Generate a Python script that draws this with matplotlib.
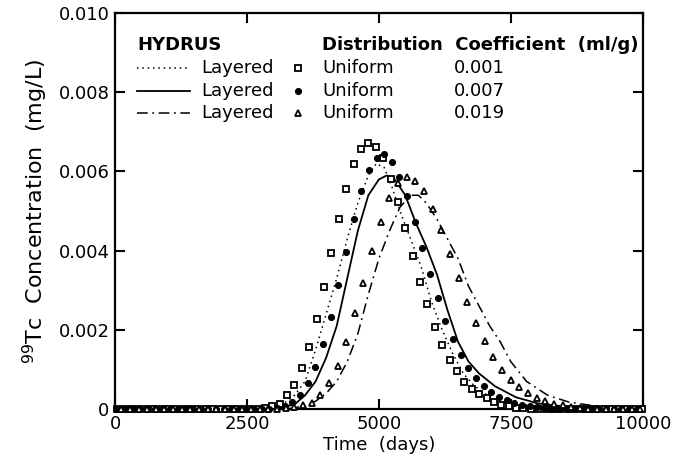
"""
99Tc breakthrough: HYDRUS layered profile (lines) vs uniform profile (markers)
for three distribution coefficients. Writes out.png.
"""

import matplotlib
matplotlib.use("Agg")
import matplotlib.pyplot as plt

# ==========================================
# DATA
# ==========================================
# HYDRUS layered runs: dotted Kd=0.001, solid Kd=0.007, dash-dot Kd=0.019
DOT_T = [0, 2600, 2800, 3000, 3200, 3400, 3600, 3800, 4000, 4200, 4400, 4600,
         4800, 4950, 5100, 5250, 5400, 5600, 5800, 6000, 6200, 6400, 6600,
         6800, 7000, 7250, 7600, 8000, 8500, 10000]
DOT_C = [0, 0, 0.00001, 0.00005, 0.00015, 0.00035, 0.0007, 0.0015, 0.0024,
         0.0033, 0.0043, 0.0052, 0.0059, 0.0062, 0.0061, 0.0056, 0.0050,
         0.0043, 0.0036, 0.0027, 0.0020, 0.0014, 0.0009, 0.0006, 0.0004,
         0.00022, 0.0001, 0.00003, 0, 0]

SOL_T = [0, 2800, 3000, 3200, 3400, 3600, 3800, 4000, 4200, 4400, 4600, 4800,
         5000, 5150, 5300, 5500, 5700, 5900, 6100, 6300, 6500, 6700, 6900,
         7200, 7600, 8000, 8500, 9000, 9500, 10000]
SOL_C = [0, 0, 0.00002, 0.00006, 0.00012, 0.00035, 0.0007, 0.0013, 0.0021,
         0.0033, 0.0045, 0.0054, 0.0058, 0.0059, 0.0058, 0.0054, 0.0047,
         0.0041, 0.0034, 0.0025, 0.0017, 0.0012, 0.0009, 0.00058, 0.0003,
         0.00015, 0.00007, 0.00002, 0, 0]

DD_T = [0, 3200, 3400, 3600, 3800, 4000, 4200, 4400, 4600, 4800, 5000, 5200,
        5400, 5600, 5750, 5900, 6100, 6300, 6500, 6700, 6900, 7100, 7300,
        7500, 7800, 8200, 8600, 9000, 9500, 10000]
DD_C = [0, 0, 0.00003, 0.0001, 0.0002, 0.0004, 0.0007, 0.0012, 0.0019,
        0.0029, 0.0038, 0.0045, 0.0051, 0.0054, 0.0054, 0.0052, 0.0048,
        0.0043, 0.0038, 0.0031, 0.0026, 0.0021, 0.0017, 0.0012, 0.0007,
        0.00035, 0.00018, 0.0001, 0.00003, 0]

# Uniform runs (markers)
SQ_T = [40, 180, 320, 460, 600, 740, 880, 1020, 1160, 1300, 1440, 1580, 1720,
        1860, 2000, 2140, 2280, 2420, 2560, 2700, 2840, 2980, 3120, 3260,
        3400, 3540, 3680, 3820, 3960, 4100, 4240, 4380, 4520, 4660, 4800,
        4940, 5080, 5220, 5360, 5500, 5640, 5780, 5920, 6060, 6200, 6340,
        6480, 6620, 6760, 6900, 7040, 7180, 7320, 7460, 7600, 7740, 7880,
        8020, 8160, 8300, 8440, 8580, 8720, 8860, 9000, 9140, 9280, 9420,
        9560, 9700, 9840, 9980]
SQ_C = [0, 0, 0, 0, 0, 0, 0, 0, 0, 0, 0, 0, 0, 0, 0, 0, 0, 0, 0, 0.00001,
        0.00004, 0.00008, 0.00013, 0.00035, 0.00061, 0.00104, 0.00157,
        0.00228, 0.00309, 0.00395, 0.00481, 0.00557, 0.00618, 0.00658,
        0.00673, 0.00663, 0.00633, 0.00582, 0.00522, 0.00458, 0.00387,
        0.00322, 0.00266, 0.00208, 0.00162, 0.00124, 0.00096, 0.00068,
        0.0005, 0.00038, 0.00028, 0.00018, 0.0001, 0.00007, 0.00004, 0.00002,
        0, 0, 0, 0, 0, 0, 0, 0, 0, 0, 0, 0, 0, 0, 0, 0]

CI_T = [25, 170, 315, 460, 605, 750, 895, 1040, 1185, 1330, 1475, 1620, 1765,
        1910, 2055, 2200, 2345, 2490, 2635, 2780, 2925, 3070, 3215, 3360,
        3505, 3650, 3795, 3940, 4085, 4230, 4375, 4520, 4665, 4810, 4955,
        5100, 5245, 5390, 5535, 5680, 5825, 5970, 6115, 6260, 6405, 6550,
        6695, 6840, 6985, 7130, 7275, 7420, 7565, 7710, 7855, 8000, 8145,
        8290, 8435, 8580, 8725, 8870, 9015, 9160, 9305, 9450, 9595, 9740, 9885]
CI_C = [0, 0, 0, 0, 0, 0, 0, 0, 0, 0, 0, 0, 0, 0, 0, 0, 0, 0, 0, 0, 0.00001,
        0.00003, 0.00008, 0.00018, 0.00035, 0.00066, 0.00106, 0.00165,
        0.00233, 0.00314, 0.00397, 0.00481, 0.00552, 0.00605, 0.00635,
        0.00643, 0.00625, 0.00587, 0.00537, 0.00473, 0.00408, 0.00342,
        0.00281, 0.00223, 0.00177, 0.00137, 0.00104, 0.00078, 0.00058,
        0.00043, 0.0003, 0.00023, 0.00015, 0.0001, 0.00008, 0.00005, 0.00003,
        0.00001, 0, 0, 0, 0, 0, 0, 0, 0, 0, 0, 0]

TR_T = [116, 280, 444, 608, 772, 936, 1100, 1264, 1428, 1592, 1756, 1920,
        2084, 2248, 2412, 2576, 2740, 2904, 3068, 3232, 3396, 3560, 3724,
        3888, 4052, 4216, 4380, 4544, 4708, 4872, 5036, 5200, 5364, 5528,
        5692, 5856, 6020, 6184, 6348, 6512, 6676, 6840, 7004, 7168, 7332,
        7496, 7660, 7824, 7988, 8152, 8316, 8480, 8644, 8808, 8972, 9136,
        9300, 9464, 9628, 9792, 9956]
TR_C = [0, 0, 0, 0, 0, 0, 0, 0, 0, 0, 0, 0, 0, 0, 0, 0, 0, 0, 0,
        0.00002, 0.00005, 0.0001, 0.00015, 0.00035, 0.00066, 0.00109, 0.0017,
        0.00243, 0.00319, 0.004, 0.00473, 0.00532, 0.00572, 0.00587, 0.00577,
        0.00552, 0.00506, 0.00453, 0.00392, 0.00332, 0.00271, 0.00218,
        0.00172, 0.00132, 0.00099, 0.00073, 0.00056, 0.00041, 0.00028,
        0.0002, 0.00013, 0.0001, 0.00005, 0.00003, 0.00001,
        0, 0, 0, 0, 0, 0]

KD_LABELS = ["0.001", "0.007", "0.019"]
X_TICKS = [0, 2500, 5000, 7500, 10000]
Y_TICKS = [0, 0.002, 0.004, 0.006, 0.008, 0.010]
Y_TICK_LABELS = ["0", "0.002", "0.004", "0.006", "0.008", "0.010"]

# ==========================================
# STYLE
# ==========================================
FONT = "DejaVu Sans"
FS = 13
DASHDOT = (0, (7, 3, 1.2, 3))

LINE_STYLES = [
    dict(linestyle=(0, (1, 2.5)), lw=1.1),
    dict(linestyle="-", lw=1.3),
    dict(linestyle=DASHDOT, lw=1.1),
]
MARKER_STYLES = [
    dict(marker="s", ms=4.2, mfc="white", mec="black", mew=1.3),
    dict(marker="o", ms=4.3, mfc="black", mec="black", mew=0.8),
    dict(marker="^", ms=4.8, mfc="white", mec="black", mew=1.3),
]


def draw_legend(ax):
    tr = ax.transAxes
    ax.text(0.043, 0.919, "HYDRUS", transform=tr, fontsize=FS,
            fontweight="bold", va="center", ha="left")
    ax.text(0.392, 0.919, "Distribution  Coefficient  (ml/g)", transform=tr,
            fontsize=FS, fontweight="bold", va="center", ha="left")
    rows_y = [0.861, 0.803, 0.747]
    for y, ls, ms, kd in zip(rows_y, LINE_STYLES, MARKER_STYLES, KD_LABELS):
        ax.plot([0.042, 0.142], [y, y], color="black", transform=tr, **ls)
        ax.text(0.163, y, "Layered", transform=tr, fontsize=FS,
                va="center", ha="left")
        ax.plot([0.347], [y], linestyle="none", transform=tr, **ms)
        ax.text(0.392, y, "Uniform", transform=tr, fontsize=FS,
                va="center", ha="left")
        ax.text(0.642, y, kd, transform=tr, fontsize=FS,
                va="center", ha="left")


def main() -> None:
    plt.rcParams["font.family"] = [FONT]
    fig = plt.figure(figsize=(6.73, 4.65), dpi=100)
    ax = fig.add_axes([0.171, 0.120, 0.784, 0.852])

    for (t, c), st in zip([(DOT_T, DOT_C), (SOL_T, SOL_C), (DD_T, DD_C)],
                          LINE_STYLES):
        ax.plot(t, c, color="black", **st)

    for (t, c), st in zip([(SQ_T, SQ_C), (CI_T, CI_C), (TR_T, TR_C)],
                          MARKER_STYLES):
        ax.plot(t, c, linestyle="none", clip_on=False, zorder=3, **st)

    draw_legend(ax)

    ax.set_xlim(0, 10000)
    ax.set_ylim(0, 0.010)
    ax.set_xticks(X_TICKS)
    ax.set_xticklabels([str(v) for v in X_TICKS])
    ax.set_yticks(Y_TICKS)
    ax.set_yticklabels(Y_TICK_LABELS)
    ax.tick_params(direction="in", length=7, width=1.5, labelsize=FS,
                   top=True, right=True, pad=4)
    for sp in ax.spines.values():
        sp.set_linewidth(1.6)

    ax.set_xlabel("Time  (days)", fontsize=FS, labelpad=2)
    ax.set_ylabel(r"$^{99}$Tc  Concentration  (mg/L)", fontsize=16,
                  labelpad=6)

    fig.savefig("out.png", dpi=100)
    plt.close(fig)


if __name__ == "__main__":
    main()
